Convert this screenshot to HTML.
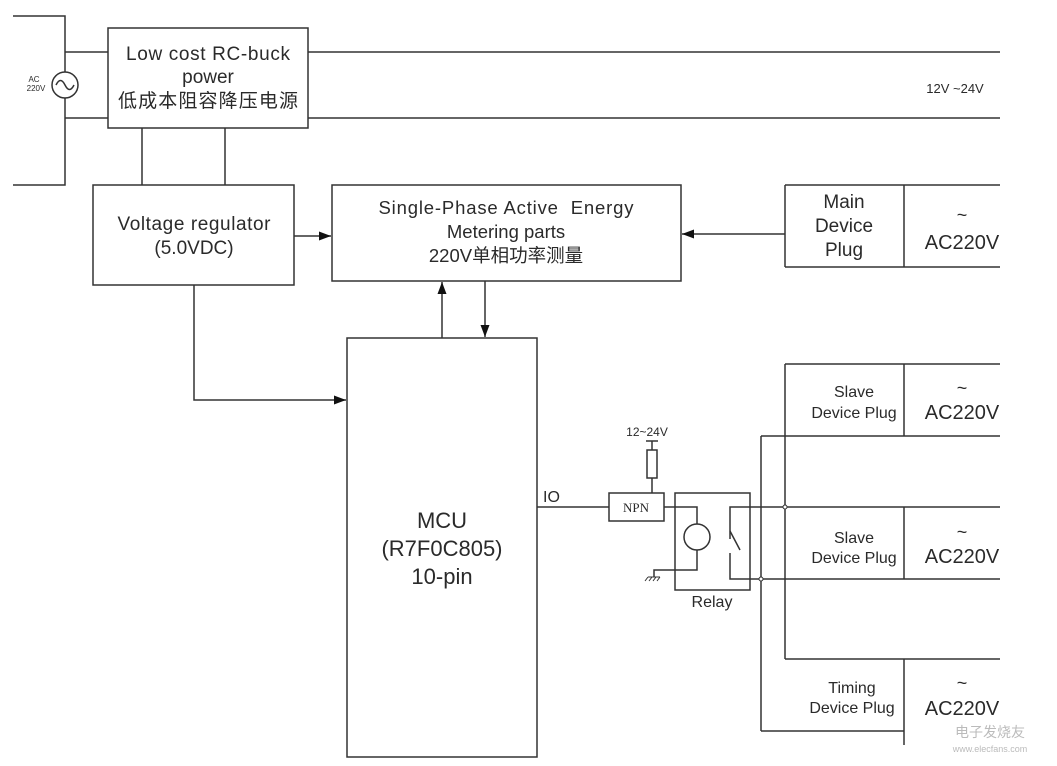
<!DOCTYPE html>
<html><head><meta charset="utf-8"><style>
html,body{margin:0;padding:0;background:#fff;}
svg{display:block;}
text{font-family:"Liberation Sans","Noto Sans CJK SC",sans-serif;fill:#2a2a2a;}
</style></head><body>
<svg width="1057" height="766" viewBox="0 0 1057 766" xmlns="http://www.w3.org/2000/svg">
<defs>
<marker id="a" markerWidth="12" markerHeight="9" refX="12" refY="4.5" orient="auto" markerUnits="userSpaceOnUse">
<path d="M0,0 L12,4.5 L0,9 z" fill="#111"/></marker>
</defs>
<g stroke="#333" stroke-width="1.5" fill="none">
<polyline points="13,16 65,16 65,185 13,185"/>
<circle cx="65" cy="85" r="13" fill="#fff"/>
<path d="M56,85 q4.5,-9 9,0 t9,0"/>
<line x1="65" y1="52" x2="108" y2="52"/>
<line x1="65" y1="118" x2="108" y2="118"/>
<rect x="108" y="28" width="200" height="100" fill="#fff"/>
<line x1="308" y1="52" x2="1000" y2="52"/>
<line x1="308" y1="118" x2="1000" y2="118"/>
<line x1="142" y1="128" x2="142" y2="185"/>
<line x1="225" y1="128" x2="225" y2="185"/>
<rect x="93" y="185" width="201" height="100"/>
<rect x="332" y="185" width="349" height="96"/>
<line x1="294" y1="236" x2="331" y2="236" marker-end="url(#a)"/>
<polyline points="785,185 1000,185"/>
<polyline points="785,267 1000,267"/>
<line x1="785" y1="185" x2="785" y2="267"/>
<line x1="904" y1="185" x2="904" y2="267"/>
<line x1="785" y1="234" x2="682" y2="234" marker-end="url(#a)"/>
<rect x="347" y="338" width="190" height="419"/>
<line x1="442" y1="338" x2="442" y2="282" marker-end="url(#a)"/>
<line x1="485" y1="281" x2="485" y2="337" marker-end="url(#a)"/>
<polyline points="194,285 194,400 346,400" marker-end="url(#a)"/>
<line x1="537" y1="507" x2="609" y2="507"/>
<rect x="609" y="493" width="55" height="28"/>
<line x1="652" y1="493" x2="652" y2="478"/>
<rect x="647" y="450" width="10" height="28"/>
<line x1="652" y1="450" x2="652" y2="441"/>
<line x1="646" y1="441" x2="658" y2="441"/>
<rect x="675" y="493" width="75" height="97"/>
<polyline points="664,507 697,507 697,524"/>
<circle cx="697" cy="537" r="13"/>
<polyline points="697,550 697,570 654,570 654,577"/>
<path d="M648,577 h12 M648,577 l-3,4 M652,577 l-3,4 M656,577 l-3,4 M660,577 l-3,4" stroke-width="1"/>
<polyline points="1000,507 730,507 730,539"/>
<line x1="730" y1="531" x2="740" y2="550"/>
<polyline points="730,553 730,579 1000,579"/>
<line x1="785" y1="364" x2="1000" y2="364"/>
<line x1="785" y1="364" x2="785" y2="659"/>
<line x1="761" y1="436" x2="1000" y2="436"/>
<line x1="761" y1="436" x2="761" y2="731"/>
<line x1="761" y1="731" x2="904" y2="731"/>
<line x1="785" y1="659" x2="1000" y2="659"/>
<line x1="904" y1="364" x2="904" y2="436"/>
<line x1="904" y1="507" x2="904" y2="579"/>
<line x1="904" y1="659" x2="904" y2="745"/>
</g>
<circle cx="785" cy="507" r="2" fill="#fff" stroke="#333"/>
<circle cx="761" cy="579" r="2" fill="#fff" stroke="#333"/>
<text x="34" y="82" font-size="8" text-anchor="middle">AC</text>
<text x="36" y="91" font-size="8" text-anchor="middle">220V</text>
<text x="208" y="60" font-size="19" text-anchor="middle" textLength="164">Low cost RC-buck</text>
<text x="208" y="83" font-size="19" text-anchor="middle">power</text>
<text x="208" y="107" font-size="19" text-anchor="middle" textLength="180">低成本阻容降压电源</text>
<text x="955" y="93" font-size="13" text-anchor="middle">12V ~24V</text>
<text x="194" y="230" font-size="19" text-anchor="middle" textLength="153">Voltage regulator</text>
<text x="194" y="254" font-size="19" text-anchor="middle">(5.0VDC)</text>
<text x="506" y="214" font-size="18.5" text-anchor="middle" textLength="255" xml:space="preserve">Single-Phase Active  Energy</text>
<text x="506" y="238" font-size="18.5" text-anchor="middle">Metering parts</text>
<text x="506" y="262" font-size="18.5" text-anchor="middle">220V单相功率测量</text>
<text x="844" y="208" font-size="19" text-anchor="middle">Main</text>
<text x="844" y="232" font-size="19" text-anchor="middle">Device</text>
<text x="844" y="256" font-size="19" text-anchor="middle">Plug</text>
<text x="962" y="221" font-size="18" text-anchor="middle">~</text>
<text x="962" y="249" font-size="20" text-anchor="middle">AC220V</text>
<text x="442" y="528" font-size="22" text-anchor="middle">MCU</text>
<text x="442" y="556" font-size="22" text-anchor="middle">(R7F0C805)</text>
<text x="442" y="584" font-size="22" text-anchor="middle">10-pin</text>
<text x="543" y="502" font-size="16">IO</text>
<text x="636" y="512" font-size="13" text-anchor="middle" style="font-family:'Liberation Serif',serif">NPN</text>
<text x="647" y="436" font-size="12" text-anchor="middle">12~24V</text>
<text x="712" y="607" font-size="16" text-anchor="middle">Relay</text>
<text x="854" y="397" font-size="16" text-anchor="middle">Slave</text>
<text x="854" y="418" font-size="16" text-anchor="middle">Device Plug</text>
<text x="962" y="394" font-size="18" text-anchor="middle">~</text>
<text x="962" y="419" font-size="20" text-anchor="middle">AC220V</text>
<text x="854" y="543" font-size="16" text-anchor="middle">Slave</text>
<text x="854" y="563" font-size="16" text-anchor="middle">Device Plug</text>
<text x="962" y="538" font-size="18" text-anchor="middle">~</text>
<text x="962" y="563" font-size="20" text-anchor="middle">AC220V</text>
<text x="852" y="693" font-size="16" text-anchor="middle">Timing</text>
<text x="852" y="713" font-size="16" text-anchor="middle">Device Plug</text>
<text x="962" y="689" font-size="18" text-anchor="middle">~</text>
<text x="962" y="715" font-size="20" text-anchor="middle">AC220V</text>
<text x="990" y="737" font-size="14" text-anchor="middle" style="fill:#bbb">电子发烧友</text>
<text x="990" y="752" font-size="9" text-anchor="middle" style="fill:#bbb">www.elecfans.com</text>
</svg>
</body></html>
